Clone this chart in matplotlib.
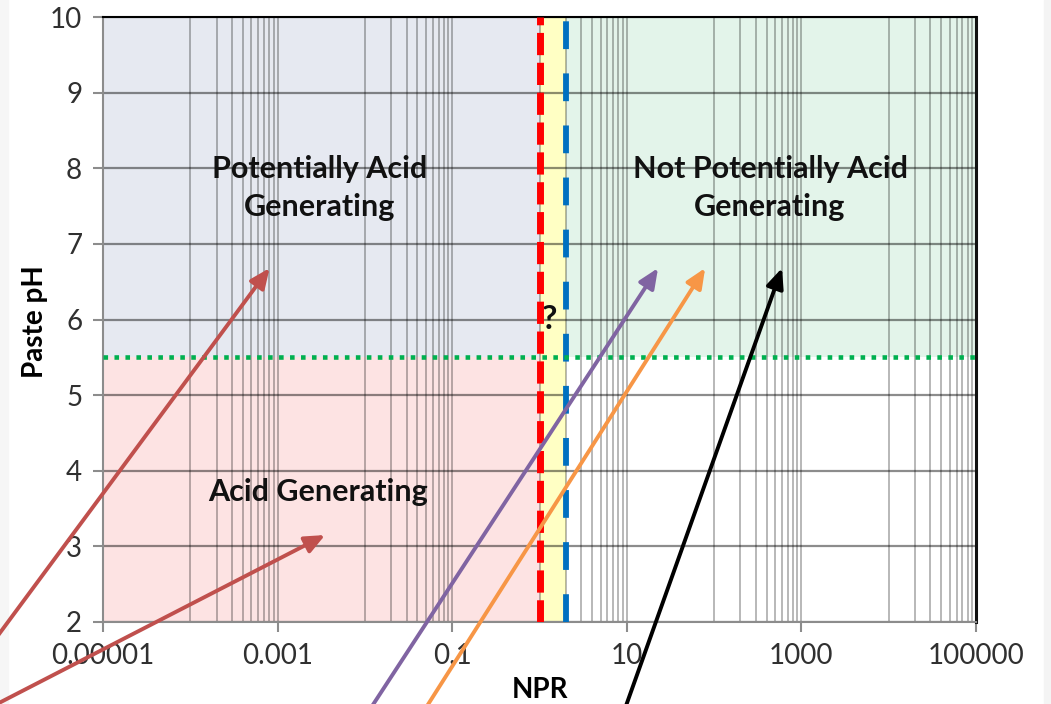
import numpy as np
import matplotlib
matplotlib.use("Agg")
import matplotlib.pyplot as plt
from matplotlib import ticker
from matplotlib.patches import Rectangle

plt.rcParams['font.family'] = ['Lato', 'DejaVu Sans']
plt.rcParams['lines.scale_dashes'] = False

# axis ranges and ticks
x_min, x_max = 1e-5, 1e5
y_min, y_max = 2, 10
x_ticks = [1e-5, 1e-3, 1e-1, 10, 1000, 100000]
x_tick_labels = ["0.00001", "0.001", "0.1", "10", "1000", "100000"]
y_ticks = [2, 3, 4, 5, 6, 7, 8, 9, 10]

# classification thresholds
npr_lower = 1.0
npr_upper = 2.0
ph_limit = 5.5

# zone labels (x, y, text)
zone_x = [3.06e-3, 437, 2.9e-3, 1.3]
zone_y = [7.74, 7.74, 3.72, 6.0]
zone_text = ["Potentially Acid\nGenerating", "Not Potentially Acid\nGenerating",
             "Acid Generating", "?"]
zone_size = [22, 22, 22, 24]

# arrows: tail -> tip
arrow_colors = ["#C0504D", "#C0504D", "#8064A2", "#F79646", "#000000"]
arrow_tail_x = [3.9e-7, 3.9e-7, 0.0115, 0.049, 9.5]
arrow_tail_y = [1.50, 0.80, 0.85, 0.85, 0.85]
arrow_tip_x = [8.1e-4, 3.5e-3, 22.8, 79, 600]
arrow_tip_y = [6.68, 3.15, 6.68, 6.68, 6.68]

fig = plt.figure(figsize=(10.51, 7.04), dpi=100)
fig.patches.append(Rectangle((0, 0), 8 / 1051, 1, transform=fig.transFigure,
                             color="#F6F6F6", zorder=-5))
fig.patches.append(Rectangle((1044 / 1051, 0), 7 / 1051, 1, transform=fig.transFigure,
                             color="#F4F4F4", zorder=-5))
ax = fig.add_axes([103 / 1051, 82 / 704, 873 / 1051, 605 / 704])
ax.set_xscale('log')
ax.set_xlim(x_min, x_max)
ax.set_ylim(y_min, y_max)

# coloured zones
ax.fill_between([x_min, npr_lower], ph_limit, y_max, color="#E6E9F1", lw=0, zorder=0.5)
ax.fill_between([x_min, npr_lower], y_min, ph_limit, color="#FDE3E3", lw=0, zorder=0.5)
ax.fill_between([npr_lower, npr_upper], y_min, y_max, color="#FFFFC4", lw=0, zorder=0.5)
ax.fill_between([npr_upper, x_max], ph_limit, y_max, color="#E3F4EA", lw=0, zorder=0.5)

# grid (Excel style: minor lines only in every other decade)
minor_grid = [m * 10.0 ** e for e in (-4, -2, 0, 2, 4) for m in range(1, 10)]
ax.xaxis.set_major_locator(ticker.FixedLocator(x_ticks))
ax.xaxis.set_major_formatter(ticker.FixedFormatter(x_tick_labels))
ax.xaxis.set_minor_locator(ticker.FixedLocator(minor_grid))
ax.xaxis.set_minor_formatter(ticker.NullFormatter())
ax.set_yticks(y_ticks)
ax.set_axisbelow(True)
ax.grid(True, axis='x', which='both', color='black', alpha=0.33, lw=1.2)
ax.grid(True, axis='y', which='major', color='black', alpha=0.45, lw=1.6)

ax.tick_params(axis='x', which='minor', length=0)
ax.tick_params(axis='both', which='major', length=7, width=1.5, color="#8C8C8C",
               labelsize=20, labelcolor="#303030", direction='out')
ax.tick_params(axis='x', pad=8)
ax.tick_params(axis='y', pad=8)

for side in ['left', 'bottom']:
    ax.spines[side].set_color("#8C8C8C")
    ax.spines[side].set_linewidth(1.5)
ax.spines['top'].set_color("black")
ax.spines['top'].set_linewidth(1.5)
ax.spines['right'].set_color("#111111")
ax.spines['right'].set_linewidth(2.2)

# threshold lines
ax.axvline(npr_lower, color="#FF0000", lw=5, dashes=(16, 5.5), zorder=4)
ax.axvline(npr_upper, color="#0070C0", lw=4.2, dashes=(20, 17.5), zorder=4)
ax.axhline(ph_limit, color="#00B050", lw=3.3, dashes=(3.3, 4.6), zorder=4)

# zone labels
for zx, zy, zt, zs in zip(zone_x, zone_y, zone_text, zone_size):
    ax.text(zx, zy, zt, ha='center', va='center', fontsize=zs, fontweight='bold',
            color="#111111", linespacing=1.45, zorder=0.9)

# arrows
for c, tx, ty, hx, hy in zip(arrow_colors, arrow_tail_x, arrow_tail_y, arrow_tip_x, arrow_tip_y):
    ax.annotate('', xy=(hx, hy), xytext=(tx, ty), xycoords='data', textcoords='data',
                annotation_clip=False,
                arrowprops=dict(arrowstyle='-|>,head_length=0.8,head_width=0.35',
                                color=c, lw=2.8, mutation_scale=15,
                                shrinkA=0, shrinkB=0),
                zorder=6)

fig.text(35 / 1051, 1 - 322 / 704, "Paste pH", rotation=90, ha='center', va='center',
         fontsize=20, fontweight='bold', color="black")
fig.text(540 / 1051, 1 - 690 / 704, "NPR", ha='center', va='center',
         fontsize=20, fontweight='bold', color="black")

fig.savefig("out.png", dpi=100)
